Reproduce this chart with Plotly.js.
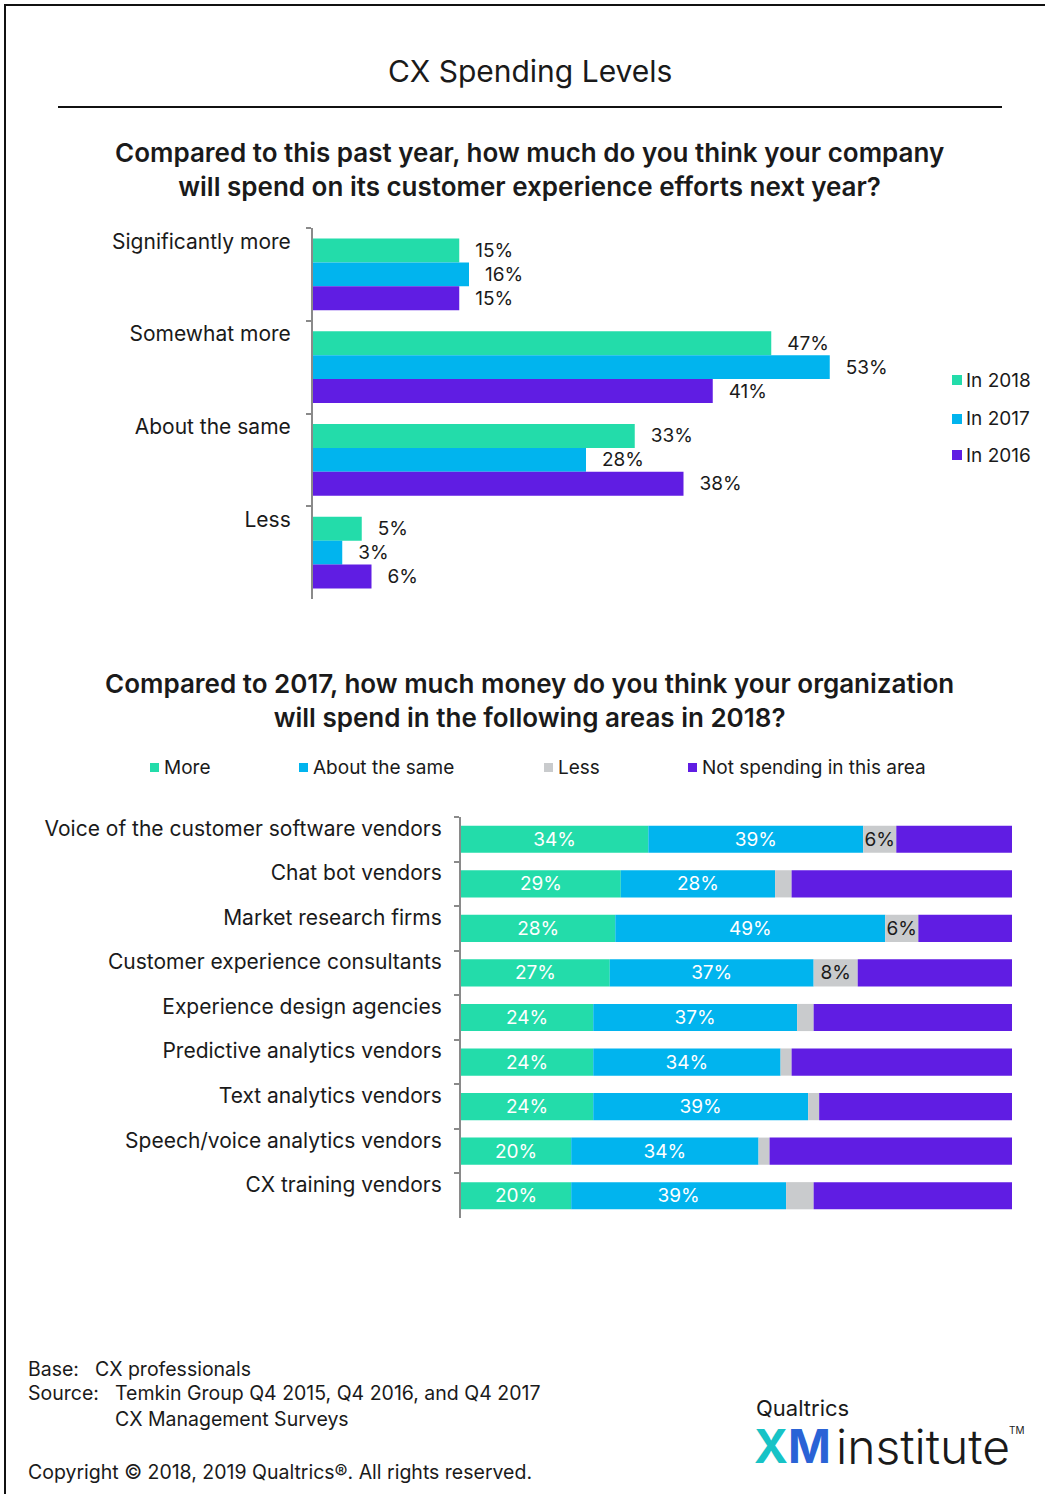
<!DOCTYPE html>
<html>
<head>
<meta charset="utf-8">
<script src="https://cdn.plot.ly/plotly-3.0.1.min.js"></script>
<style>
  html, body { margin: 0; padding: 0; background: #ffffff; }
  #chart { width: 1045px; height: 1494px; }
</style>
</head>
<body>
<div id="chart"></div>
<script>
// ---- Spending outlook (share of respondents, %) ----
const outlookCategories = ["Significantly more", "Somewhat more", "About the same", "Less"];
const outlook2018 = [15, 47, 33, 5];
const outlook2017 = [16, 53, 28, 3];
const outlook2016 = [15, 41, 38, 6];
const outlookSeriesNames = ["In 2018", "In 2017", "In 2016"];

// ---- Spending by area, 2018 vs 2017 (share of respondents, %) ----
const areaCategories = [
  "Voice of the customer software vendors",
  "Chat bot vendors",
  "Market research firms",
  "Customer experience consultants",
  "Experience design agencies",
  "Predictive analytics vendors",
  "Text analytics vendors",
  "Speech/voice analytics vendors",
  "CX training vendors"
];
const areaMore        = [34, 29, 28, 27, 24, 24, 24, 20, 20];
const areaSame        = [39, 28, 49, 37, 37, 34, 39, 34, 39];
const areaLess        = [ 6,  3,  6,  8,  3,  2,  2,  2,  5];
const areaNotSpending = [21, 40, 17, 28, 36, 40, 35, 44, 36];
const areaSeriesNames = ["More", "About the same", "Less", "Not spending in this area"];

// ---- Styling ----
const W = 1045, H = 1494;
const GREEN = "#23dcaa", BLUE = "#01b4ee", GRAY = "#c9cbcd", PURPLE = "#601de3";
const INK = "#1a1a1a";
const AXIS = "#8a8a8a";
const FONT = "Inter, Roboto, 'Noto Sans', Arial, sans-serif";

const px = x => x / W;
const py = y => 1 - y / H;

// cumulative bases for the stacked segments
const baseSame = areaMore.map(v => v);
const baseLess = areaMore.map((v, i) => v + areaSame[i]);
const baseNot  = areaMore.map((v, i) => v + areaSame[i] + areaLess[i]);

const pct = arr => arr.map(v => v + "%");

const outlookTrace = (vals, name, color) => ({
  type: "bar", orientation: "h", xaxis: "x", yaxis: "y",
  y: outlookCategories, x: vals, name: name,
  marker: { color: color },
  text: pct(vals), texttemplate: "\u2002\u2009%{text}", textposition: "outside",
  textfont: { family: FONT, size: 19, color: INK },
  cliponaxis: false, hoverinfo: "skip", showlegend: false
});

const areaTrace = (vals, base, name, color, txt, txtColor) => ({
  type: "bar", orientation: "h", xaxis: "x2", yaxis: "y2",
  y: areaCategories, x: vals, base: base, name: name, offsetgroup: "areas",
  width: 0.61,
  marker: { color: color },
  text: txt, textposition: txt ? "inside" : "none", insidetextanchor: "middle",
  constraintext: "none", textangle: 0,
  textfont: { family: FONT, size: 19, color: txtColor },
  hoverinfo: "skip", showlegend: false
});

const traces = [
  outlookTrace(outlook2018, outlookSeriesNames[0], GREEN),
  outlookTrace(outlook2017, outlookSeriesNames[1], BLUE),
  outlookTrace(outlook2016, outlookSeriesNames[2], PURPLE),
  areaTrace(areaMore, null, areaSeriesNames[0], GREEN, pct(areaMore), "#ffffff"),
  areaTrace(areaSame, baseSame, areaSeriesNames[1], BLUE, pct(areaSame), "#ffffff"),
  areaTrace(areaLess, baseLess, areaSeriesNames[2], GRAY, areaLess.map(v => v >= 6 ? v + "%" : ""), INK),
  areaTrace(areaNotSpending, baseNot, areaSeriesNames[3], PURPLE, null, "#ffffff")
];

const catAxis = (domain, anchor, shift, standoff) => ({
  domain: domain, anchor: anchor, type: "category", autorange: "reversed",
  showline: true, linecolor: AXIS, linewidth: 2,
  ticks: "outside", ticklen: 5, tickwidth: 2, tickcolor: AXIS, tickson: "boundaries",
  showgrid: false, zeroline: false, fixedrange: true,
  ticklabelshift: shift, ticklabelstandoff: standoff,
  tickfont: { family: FONT, size: 21, color: INK }
});

const annotations = [];
const shapes = [];
const note = (text, x, y, size, opts) => annotations.push(Object.assign({
  text: text, xref: "paper", yref: "paper", x: px(x), y: py(y),
  xanchor: "left", yanchor: "middle", showarrow: false,
  font: { family: FONT, size: size, color: INK }
}, opts || {}));

// headings
note("CX Spending Levels", 530, 71, 30, { xanchor: "center" });
note("Compared to this past year, how much do you think your company<br>will spend on its customer experience efforts next year?",
     529, 170, 26, { xanchor: "center", font: { family: FONT, size: 26, color: INK, weight: 600 } });
note("Compared to 2017, how much money do you think your organization<br>will spend in the following areas in 2018?",
     529, 700, 26, { xanchor: "center", font: { family: FONT, size: 26, color: INK, weight: 600 } });

// frame and rule
shapes.push({ type: "rect", xref: "paper", yref: "paper", x0: px(5), x1: px(1070), y0: py(5), y1: py(1520),
              line: { color: "#111111", width: 2 }, fillcolor: "rgba(0,0,0,0)" });
shapes.push({ type: "line", xref: "paper", yref: "paper", x0: px(58), x1: px(1002), y0: py(107), y1: py(107),
              line: { color: "#111111", width: 2 } });

// legend for the outlook chart
const legend1 = [[outlookSeriesNames[0], GREEN, 380], [outlookSeriesNames[1], BLUE, 419], [outlookSeriesNames[2], PURPLE, 455]];
legend1.forEach(([label, color, y]) => {
  shapes.push({ type: "rect", xref: "paper", yref: "paper", x0: px(952), x1: px(962), y0: py(y - 5), y1: py(y + 5),
                line: { width: 0 }, fillcolor: color });
  note(label, 964, y, 19);
});

// legend for the area chart
const legend2 = [[areaSeriesNames[0], GREEN, 150], [areaSeriesNames[1], BLUE, 299], [areaSeriesNames[2], GRAY, 544], [areaSeriesNames[3], PURPLE, 688]];
legend2.forEach(([label, color, x]) => {
  shapes.push({ type: "rect", xref: "paper", yref: "paper", x0: px(x), x1: px(x + 9), y0: py(763), y1: py(772),
                line: { width: 0 }, fillcolor: color });
  note(label, x + 12, 767, 19);
});

// footnotes
const FOOT = 19.5;
note("Base:", 26, 1369, FOOT);
note("CX professionals", 93, 1369, FOOT);
note("Source:", 26, 1393, FOOT);
note("Temkin Group Q4 2015, Q4 2016, and Q4 2017", 113, 1393, FOOT);
note("CX Management Surveys", 113, 1419, FOOT);
note("Copyright \u00a9 2018, 2019 Qualtrics\u00ae. All rights reserved.", 26, 1472, FOOT);

// brand mark
note("Qualtrics", 754, 1408, 22);
note("<span style='color:#17c3c6'>X</span><span style='color:#2a63d6'>M</span>", 752, 1446, 46,
     { font: { family: FONT, size: 46, color: "#2a63d6", weight: 700 } });
note("institute", 834, 1446, 48, { font: { family: FONT, size: 48, color: INK, weight: 300 } });
note("TM", 1007, 1430, 10);

const layout = {
  width: W, height: H,
  margin: { l: 0, r: 0, t: 0, b: 0 },
  paper_bgcolor: "#ffffff", plot_bgcolor: "rgba(0,0,0,0)",
  font: { family: FONT, color: INK },
  barmode: "group", bargap: 0.226, bargroupgap: 0,
  showlegend: false,
  xaxis: { domain: [px(313), px(898)], range: [0, 60], visible: false, fixedrange: true },
  yaxis: catAxis([py(599), py(228)], "x", 33, 16),
  xaxis2: { domain: [px(461), px(1012)], range: [0, 100], visible: false, fixedrange: true },
  yaxis2: catAxis([py(1218), py(817)], "x2", 11, 13),
  annotations: annotations,
  shapes: shapes
};

Plotly.newPlot("chart", traces, layout, { displayModeBar: false, staticPlot: true });
</script>
</body>
</html>
